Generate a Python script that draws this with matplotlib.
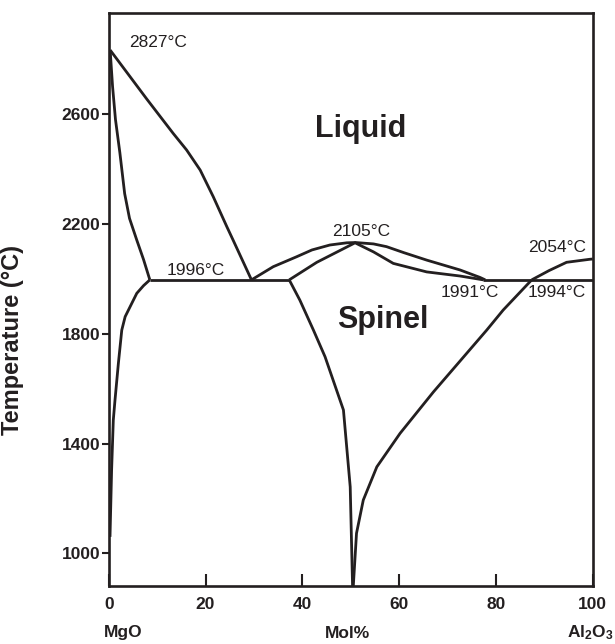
import matplotlib
matplotlib.use("Agg")
import matplotlib.pyplot as plt

plt.rcParams['font.family'] = ['Liberation Sans', 'DejaVu Sans']
plt.rcParams['mathtext.fontset'] = 'custom'
plt.rcParams['mathtext.rm'] = 'Liberation Sans:bold'
plt.rcParams['mathtext.bf'] = 'Liberation Sans:bold'
plt.rcParams['mathtext.it'] = 'Liberation Sans:bold'

INK = '#231f20'

# ---- data (mol% Al2O3, temperature in °C) ----
liq_mgo_x = [0.3, 7.85, 13.3, 16.1, 18.9, 21.6, 24.4, 25.7, 29.5]
liq_mgo_t = [2833, 2655, 2530, 2469, 2396, 2299, 2190, 2141, 1996]

sol_mgo_x = [0.3, 0.8, 1.4, 2.3, 3.3, 4.3, 5.8, 7.2, 8.5]
sol_mgo_t = [2833, 2700, 2580, 2460, 2310, 2220, 2141, 2070, 1996]

solv_mgo_x = [8.5, 7.2, 5.8, 3.4, 2.7, 2.0, 1.3, 0.95, 0.6, 0.27]
solv_mgo_t = [1996, 1975, 1947, 1862, 1813, 1692, 1558, 1485, 1303, 1060]

eut1_x = [8.5, 37.3]
eut1_t = [1996, 1996]

liq_mid_x = [29.5, 34.0, 38.8, 42.0, 45.7, 49.2, 51.0, 54.7, 57.4, 61.0, 65.7, 72.6, 76.7, 77.8]
liq_mid_t = [1996, 2044, 2080, 2105, 2123, 2131, 2132, 2127, 2117, 2095, 2068, 2032, 2005, 1996]

sol_sp_x = [37.3, 43.0, 50.9, 54.7, 58.8, 65.7, 72.6, 77.4]
sol_sp_t = [1996, 2060, 2131, 2098, 2056, 2025, 2010, 1996]

eut2_x = [77.4, 100]
eut2_t = [1996, 1996]

liq_al_x = [87.4, 91.0, 94.6, 99.4, 100]
liq_al_t = [1996, 2030, 2060, 2071, 2072]

solv_sp_l_x = [37.3, 39.5, 42.3, 44.7, 48.5, 49.9, 50.4]
solv_sp_l_t = [1996, 1922, 1813, 1716, 1522, 1242, 870]

solv_sp_r_x = [87.4, 81.5, 78.1, 67.1, 60.2, 55.4, 52.6, 51.2, 50.5]
solv_sp_r_t = [1996, 1886, 1813, 1588, 1437, 1315, 1194, 1073, 870]

x_ticks = [0, 20, 40, 60, 80, 100]
y_ticks = [1000, 1400, 1800, 2200, 2600]

labels = [
    ("2827°C", 10.1, 2845),
    ("1996°C", 17.9, 2014),
    ("2105°C", 52.1, 2156),
    ("1991°C", 74.6, 1935),
    ("1994°C", 92.6, 1935),
    ("2054°C", 92.6, 2099),
]
regions = [("Liquid", 52.1, 2517), ("Spinel", 56.7, 1820)]

# ---- figure ----
fig = plt.figure(figsize=(6.15, 6.44), dpi=100)
ax = fig.add_axes([108.7 / 615, 58 / 644, 484 / 615, 573 / 644])

lw = 2.0
for xs, ts in [(liq_mgo_x, liq_mgo_t), (sol_mgo_x, sol_mgo_t), (solv_mgo_x, solv_mgo_t),
               (eut1_x, eut1_t), (liq_mid_x, liq_mid_t), (sol_sp_x, sol_sp_t),
               (eut2_x, eut2_t), (liq_al_x, liq_al_t), (solv_sp_l_x, solv_sp_l_t),
               (solv_sp_r_x, solv_sp_r_t)]:
    ax.plot(xs, ts, color=INK, lw=lw, solid_joinstyle='miter', solid_capstyle='butt')

ax.set_xlim(0, 100)
ax.set_ylim(881, 2968)

for s in ['top', 'right', 'left', 'bottom']:
    ax.spines[s].set_linewidth(1.9)
    ax.spines[s].set_color(INK)

ax.set_xticks(x_ticks)
ax.set_yticks(y_ticks)
ax.tick_params(axis='x', direction='in', length=9, width=1.5, colors=INK, pad=8,
               labelsize=12.5)
ax.tick_params(axis='y', direction='out', length=5, width=1.5, colors=INK, pad=1,
               labelsize=12.5)
for lab in ax.get_xticklabels() + ax.get_yticklabels():
    lab.set_fontweight('bold')

ax.set_ylabel("Temperature (°C)", fontsize=17, fontweight='bold', color=INK)
ax.yaxis.set_label_coords(-0.175, 0.429)

for txt, x, t in labels:
    ax.text(x, t, txt, ha='center', va='baseline', fontsize=12.5, color=INK)
for txt, x, t in regions:
    ax.text(x, t, txt, ha='center', va='baseline', fontsize=22, fontweight='bold', color=INK)

fig.text(123 / 615, 1 - 633 / 644, "MgO", ha='center', va='center', fontsize=12.5,
         fontweight='bold', color=INK)
fig.text(348 / 615, 1 - 633 / 644, "Mol%", ha='center', va='center', fontsize=12.5,
         fontweight='bold', color=INK)
fig.text(614 / 615, 1 - 633 / 644, r"$\mathbf{Al_2O_3}$", ha='right', va='center',
         fontsize=12.5, color=INK)

fig.savefig("out.png", dpi=100)
